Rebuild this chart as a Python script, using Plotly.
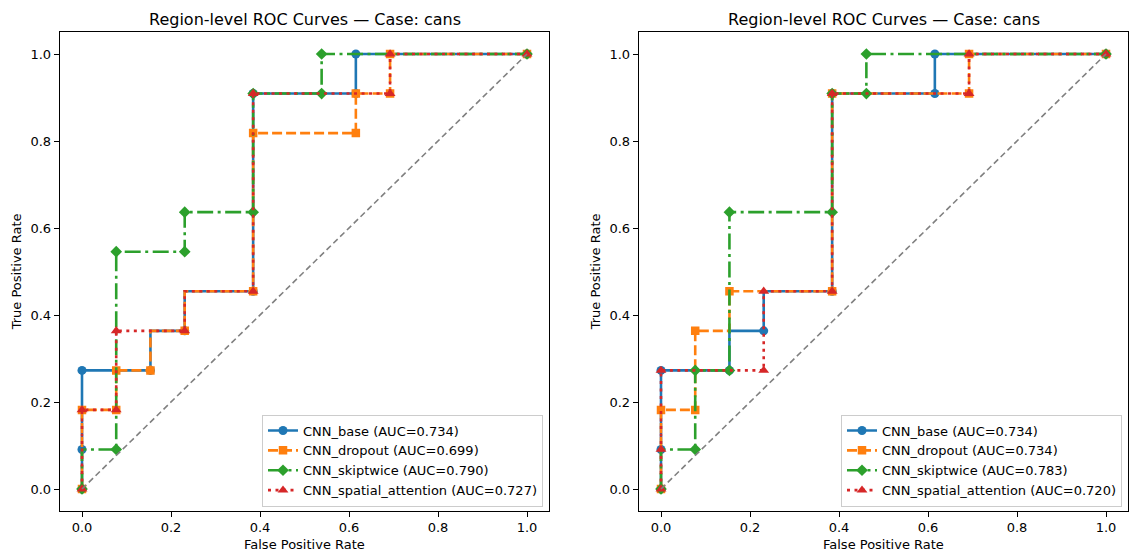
import plotly.graph_objects as go

# ---------------- data ----------------
model_names = ["CNN_base", "CNN_dropout", "CNN_skiptwice", "CNN_spatial_attention"]
auc_left = [0.734, 0.699, 0.790, 0.727]
auc_right = [0.734, 0.734, 0.783, 0.720]

# Left panel step paths (FPR, TPR) and which vertices carry a marker (1) or are plain corners (0)
L_base_fpr = [0, 0, 0, 0.1538, 0.1538, 0.2308, 0.2308, 0.3846, 0.3846, 0.6154, 0.6154, 1]
L_base_tpr = [0, 0.0909, 0.2727, 0.2727, 0.3636, 0.3636, 0.4545, 0.4545, 0.9091, 0.9091, 1, 1]
L_base_mark = [1, 1, 1, 1, 0, 1, 0, 1, 1, 1, 1, 1]

L_drop_fpr = [0, 0, 0.0769, 0.0769, 0.1538, 0.1538, 0.2308, 0.2308, 0.3846, 0.3846, 0.6154, 0.6154, 0.6923, 0.6923, 1]
L_drop_tpr = [0, 0.1818, 0.1818, 0.2727, 0.2727, 0.3636, 0.3636, 0.4545, 0.4545, 0.8182, 0.8182, 0.9091, 0.9091, 1, 1]
L_drop_mark = [1, 1, 1, 1, 1, 0, 1, 0, 1, 1, 1, 1, 1, 1, 1]

L_skip_fpr = [0, 0, 0.0769, 0.0769, 0.2308, 0.2308, 0.3846, 0.3846, 0.5385, 0.5385, 1]
L_skip_tpr = [0, 0.0909, 0.0909, 0.5455, 0.5455, 0.6364, 0.6364, 0.9091, 0.9091, 1, 1]
L_skip_mark = [1, 0, 1, 1, 1, 1, 1, 1, 1, 1, 1]

L_att_fpr = [0, 0, 0.0769, 0.0769, 0.2308, 0.2308, 0.3846, 0.3846, 0.6923, 0.6923, 1]
L_att_tpr = [0, 0.1818, 0.1818, 0.3636, 0.3636, 0.4545, 0.4545, 0.9091, 0.9091, 1, 1]
L_att_mark = [1, 1, 1, 1, 1, 0, 1, 1, 1, 1, 1]

# Right panel
R_base_fpr = [0, 0, 0, 0.1538, 0.1538, 0.2308, 0.2308, 0.3846, 0.3846, 0.6154, 0.6154, 1]
R_base_tpr = [0, 0.0909, 0.2727, 0.2727, 0.3636, 0.3636, 0.4545, 0.4545, 0.9091, 0.9091, 1, 1]
R_base_mark = [1, 1, 1, 1, 0, 1, 0, 1, 1, 1, 1, 1]

R_drop_fpr = [0, 0, 0.0769, 0.0769, 0.1538, 0.1538, 0.3846, 0.3846, 0.6923, 0.6923, 1]
R_drop_tpr = [0, 0.1818, 0.1818, 0.3636, 0.3636, 0.4545, 0.4545, 0.9091, 0.9091, 1, 1]
R_drop_mark = [1, 1, 1, 1, 0, 1, 1, 1, 1, 1, 1]

R_skip_fpr = [0, 0, 0.0769, 0.0769, 0.1538, 0.1538, 0.3846, 0.3846, 0.4615, 0.4615, 1]
R_skip_tpr = [0, 0.0909, 0.0909, 0.2727, 0.2727, 0.6364, 0.6364, 0.9091, 0.9091, 1, 1]
R_skip_mark = [1, 0, 1, 1, 1, 1, 1, 1, 1, 1, 1]

R_att_fpr = [0, 0, 0, 0.2308, 0.2308, 0.3846, 0.3846, 0.6923, 0.6923, 1]
R_att_tpr = [0, 0.0909, 0.2727, 0.2727, 0.4545, 0.4545, 0.9091, 0.9091, 1, 1]
R_att_mark = [1, 1, 1, 1, 1, 1, 1, 1, 1, 1]

chance_line = [0, 1]
tick_vals = [0.0, 0.2, 0.4, 0.6, 0.8, 1.0]
panel_title = "Region-level ROC Curves — Case: cans"

# ---------------- styles ----------------
colors = ["#1f77b4", "#ff7f0e", "#2ca02c", "#d62728"]
symbols = ["circle", "square", "diamond", "triangle-up"]
msizes = [9, 8.5, 9, 9.5]
dashes = ["solid", "10px,4px", "16px,4.5px,3px,4.5px", "3px,4.5px"]
FONT = "DejaVu Sans"
W, H = 1129, 552

left_series = [(L_base_fpr, L_base_tpr, L_base_mark), (L_drop_fpr, L_drop_tpr, L_drop_mark),
               (L_skip_fpr, L_skip_tpr, L_skip_mark), (L_att_fpr, L_att_tpr, L_att_mark)]
right_series = [(R_base_fpr, R_base_tpr, R_base_mark), (R_drop_fpr, R_drop_tpr, R_drop_mark),
                (R_skip_fpr, R_skip_tpr, R_skip_mark), (R_att_fpr, R_att_tpr, R_att_mark)]

fig = go.Figure()

def add_panel(series, aucs, xa, ya, legend_id):
    for i, (fx, ty, mk) in enumerate(series):
        sizes = [msizes[i] if m else 0 for m in mk]
        fig.add_trace(go.Scatter(
            x=fx, y=ty, xaxis=xa, yaxis=ya, mode="lines+markers",
            line=dict(color=colors[i], width=2.6, dash=dashes[i]),
            marker=dict(symbol=symbols[i], size=sizes, color=colors[i], opacity=1,
                        line=dict(width=0, color=colors[i])),
            showlegend=False, hoverinfo="skip"))
    # chance diagonal
    fig.add_trace(go.Scatter(
        x=chance_line, y=chance_line, xaxis=xa, yaxis=ya, mode="lines",
        line=dict(color="gray", width=1.6, dash="6px,3.5px"),
        showlegend=False, hoverinfo="skip"))
    # legend entries
    for i in range(4):
        fig.add_trace(go.Scatter(
            x=[None], y=[None], xaxis=xa, yaxis=ya, mode="lines+markers",
            name=f"{model_names[i]} (AUC={aucs[i]:.3f})",
            line=dict(color=colors[i], width=2.6, dash=dashes[i]),
            marker=dict(symbol=symbols[i], size=msizes[i], color=colors[i], opacity=1,
                        line=dict(width=0, color=colors[i])),
            legend=legend_id, showlegend=True))

add_panel(left_series, auc_left, "x", "y", "legend")
add_panel(right_series, auc_right, "x2", "y2", "legend2")

# pixel geometry
def px_x(p):
    return p / W

def px_y(p):
    return 1 - p / H

L_left, L_right = 59.75, 549.25
R_left, R_right = 638.75, 1128.25
top, bottom = 32.25, 510.75

axis_common = dict(
    range=[-0.05, 1.05], tickvals=tick_vals, tickformat=".1f",
    showgrid=False, zeroline=False, showline=True, linecolor="black", linewidth=1,
    mirror=True, ticks="outside", ticklen=5, tickwidth=1, tickcolor="black",
    tickfont=dict(family=FONT, size=13, color="black"),
)

legend_common = dict(
    font=dict(family=FONT, size=13, color="black"),
    bgcolor="rgba(255,255,255,0.8)", bordercolor="#cccccc", borderwidth=1,
    xanchor="right", yanchor="bottom", itemwidth=30, tracegroupgap=0,
)

fig.update_layout(
    width=W, height=H, margin=dict(l=0, r=0, t=0, b=0),
    paper_bgcolor="white", plot_bgcolor="white",
    font=dict(family=FONT, color="black"),
    xaxis=dict(domain=[px_x(L_left), px_x(L_right)], anchor="y", **axis_common),
    yaxis=dict(domain=[px_y(bottom), px_y(top)], anchor="x", **axis_common),
    xaxis2=dict(domain=[px_x(R_left), px_x(R_right)], anchor="y2", **axis_common),
    yaxis2=dict(domain=[px_y(bottom), px_y(top)], anchor="x2", **axis_common),
    legend=dict(x=px_x(543), y=px_y(506.5), **legend_common),
    legend2=dict(x=px_x(1122), y=px_y(506.5), **legend_common),
    showlegend=True,
)

annos = []
for (lft, rgt) in [(L_left, L_right), (R_left, R_right)]:
    cx = (lft + rgt) / 2
    annos.append(dict(text=panel_title, x=px_x(cx), y=px_y(19), xref="paper", yref="paper",
                      showarrow=False, xanchor="center", yanchor="middle",
                      font=dict(family=FONT, size=16, color="black")))
    annos.append(dict(text="False Positive Rate", x=px_x(cx), y=px_y(544), xref="paper", yref="paper",
                      showarrow=False, xanchor="center", yanchor="middle",
                      font=dict(family=FONT, size=13, color="black")))
    annos.append(dict(text="True Positive Rate", x=px_x(lft - 43), y=px_y((top + bottom) / 2),
                      xref="paper", yref="paper", showarrow=False, textangle=-90,
                      xanchor="center", yanchor="middle",
                      font=dict(family=FONT, size=13, color="black")))
fig.update_layout(annotations=annos)

fig.write_html("out.html")
